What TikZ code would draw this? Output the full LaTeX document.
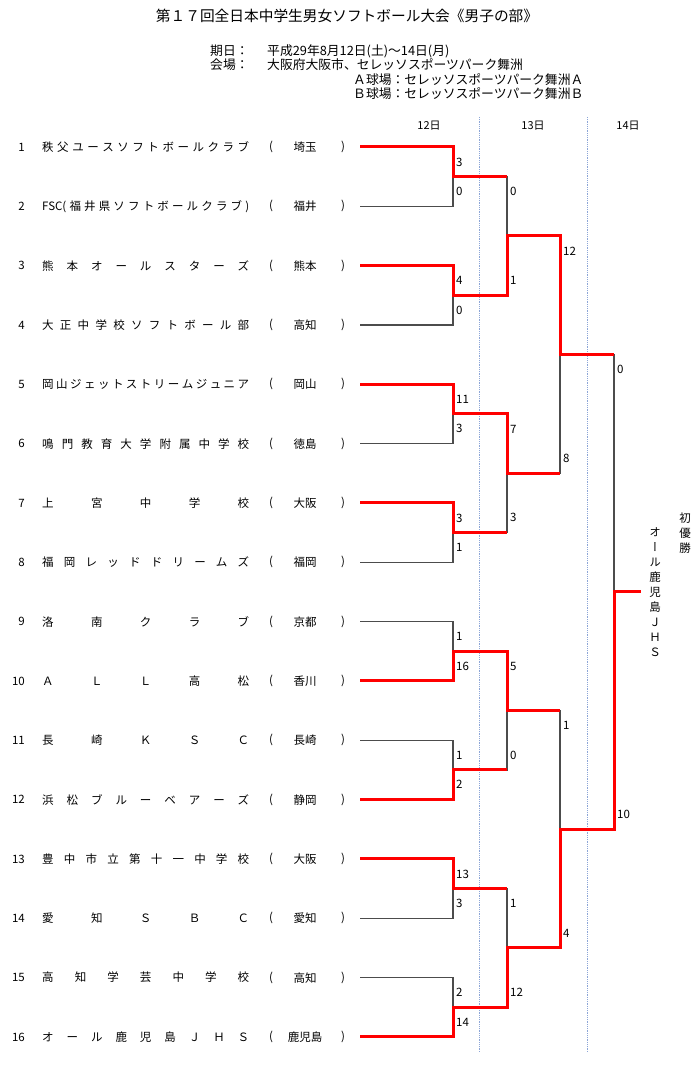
\documentclass[tikz,border=0pt]{standalone}
\usepackage{fontspec}
\setmainfont{Noto Sans CJK JP}
\newfontfamily\tatefont[RawFeature=+vert]{Noto Sans CJK JP}
\usetikzlibrary{calc}

\definecolor{winred}{RGB}{255,0,0}
\definecolor{dayblue}{RGB}{140,165,215}

% spread the letters of a name over the name column
\makeatletter
\def\spreadname#1{\expandafter\spreadbox\expandafter{#1}}
\def\spreadbox#1{\makebox[207pt][s]{\hfilneg\spread@#1\spread@end}}
\def\spread@end{}
\def\spread@#1{\ifx#1\spread@end\else\hfil#1\expandafter\spread@\fi}
\makeatother

\tikzset{
  head/.style={anchor=west, inner sep=0, font=\fontsize{12.8}{14}\selectfont},
  day/.style={inner sep=0, font=\fontsize{11}{13}\selectfont},
  seed/.style={anchor=east, inner sep=0, font=\fontsize{11.5}{13}\selectfont},
  team/.style={anchor=west, inner sep=0, font=\fontsize{11.5}{13}\selectfont},
  pref/.style={inner sep=0, font=\fontsize{11.5}{13}\selectfont},
  score/.style={anchor=west, inner sep=0, font=\fontsize{11.5}{13}\selectfont},
  bracket/.style={black!70, line width=1.1pt},
  winpath/.style={winred, line width=3pt},
  dayline/.style={dayblue, densely dotted, line width=.8pt},
  tate/.style={align=center, inner sep=0, font=\fontsize{11.5}{15}\selectfont}
}

\begin{document}
\begin{tikzpicture}[x=1pt, y=-1pt]
    \useasboundingbox (0,0) rectangle (700,1067);
    % heading
    \node[font=\fontsize{14.7}{16}\selectfont] (title) at (347,16) {第１７回全日本中学生男女ソフトボール大会《男子の部》};
    \node[head] (kijitsu) at (210,51) {期日：};
    \node[head] (date) at (267,51) {平成29年8月12日(土)～14日(月)};
    \node[head] (kaijo) at (210,65) {会場：};
    \node[head] (venue) at (267,65) {大阪府大阪市、セレッソスポーツパーク舞洲};
    \node[head] (fieldA) at (353,80) {Ａ球場：セレッソスポーツパーク舞洲Ａ};
    \node[head] (fieldB) at (353,94) {Ｂ球場：セレッソスポーツパーク舞洲Ｂ};
    % days
    \draw[dayline] (479,117) -- (479,1052);
    \draw[dayline] (587,117) -- (587,1052);
    \node[day] (day12) at (429,126) {12日};
    \node[day] (day13) at (533,126) {13日};
    \node[day] (day14) at (628,126) {14日};
    % teams
    \foreach \i/\nm/\pf in {1/秩父ユースソフトボールクラブ/埼玉, 2/{FSC(}福井県ソフトボールクラブ)/福井,
      3/熊本オールスターズ/熊本, 4/大正中学校ソフトボール部/高知, 5/岡山ジェットストリームジュニア/岡山,
      6/鳴門教育大学附属中学校/徳島, 7/上宮中学校/大阪, 8/福岡レッドドリームズ/福岡, 9/洛南クラブ/京都,
      10/ＡＬＬ高松/香川, 11/長崎ＫＳＣ/長崎, 12/浜松ブルーベアーズ/静岡, 13/豊中市立第十一中学校/大阪,
      14/愛知ＳＢＣ/愛知, 15/高知学芸中学校/高知, 16/オール鹿児島ＪＨＳ/鹿児島} {
    \coordinate (t\i) at (360, {147+(\i-1)*59.33});
    \node[seed] (n\i) at (25, {147+(\i-1)*59.33}) {\i};
    \node[team] (tm\i) at (42, {147+(\i-1)*59.33}) {\spreadname\nm};
    \node[pref] (lp\i) at (271, {147+(\i-1)*59.33}) {(};
    \node[pref] (pf\i) at (305, {147+(\i-1)*59.33}) {\pf};
    \node[pref] (rp\i) at (343, {147+(\i-1)*59.33}) {)};
    }
    % joins
    \foreach \k in {1,...,8} \coordinate (a\k) at (453, {147+(2*\k-1.5)*59.33});
    \foreach \k in {1,...,4} \coordinate (b\k) at (507, {147+(4*\k-2.5)*59.33});
    \foreach \k in {1,2} \coordinate (c\k) at (560, {147+(8*\k-4.5)*59.33});
    \coordinate (d) at (614, {147+7.5*59.33});
    \coordinate (w) at (641, {147+7.5*59.33});
    % bracket and scores
    \foreach \u/\m/\l/\p/\q in {t1/a1/t2/3/0, t3/a2/t4/4/0, t5/a3/t6/11/3, t7/a4/t8/3/1,
      t9/a5/t10/1/16, t11/a6/t12/1/2, t13/a7/t14/13/3, t15/a8/t16/2/14,
      a1/b1/a2/0/1, a3/b2/a4/7/3, a5/b3/a6/5/0, a7/b4/a8/1/12,
      b1/c1/b2/12/8, b3/c2/b4/1/4, c1/d/c2/0/10} {
    \draw[bracket] (\u) -| (\m) |- (\l);
    \node[score] (s\m-u) at ($(\u -| \m)+(3,15)$) {\p};
    \node[score] (s\m-l) at ($(\l -| \m)+(3,-15)$) {\q};
    }
    % winners
    \draw[winpath] (t1) -| (a1) -- (a1 -| b1);
    \draw[winpath] (t3) -| (a2) -| (b1) -| (c1) -- (c1 -| d);
    \draw[winpath] (t5) -| (a3) -| (b2) -- (b2 -| c1);
    \draw[winpath] (t7) -| (a4) -- (a4 -| b2);
    \draw[winpath] (t10) -| (a5) -| (b3) -- (b3 -| c2);
    \draw[winpath] (t12) -| (a6) -- (a6 -| b3);
    \draw[winpath] (t13) -| (a7) -- (a7 -| b4);
    \draw[winpath] (t16) -| (a8) -| (b4) -| (c2) -| (d) -- (w);
    % champion
    \node[tate] (yusho) at (685,533) {初\\優\\勝};
    \node[tate, font=\tatefont\fontsize{11.5}{15}\selectfont] (champ) at (655,592) {オ\\ー\\ル\\鹿\\児\\島\\Ｊ\\Ｈ\\Ｓ};
\end{tikzpicture}
\end{document}
